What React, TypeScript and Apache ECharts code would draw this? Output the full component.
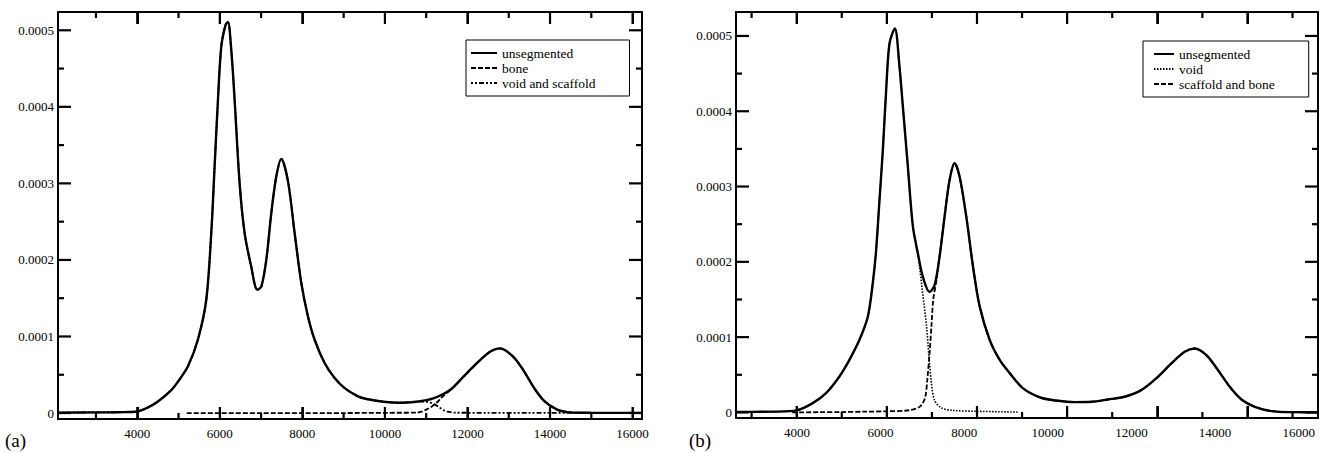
import React, { useEffect, useRef } from 'react';
import * as echarts from 'echarts';

const FONT = '"Liberation Serif", "Times New Roman", Times, serif';

// ---------------- Panel (a) ----------------
const aUnsegX = [2080, 3000, 3500, 3700, 4000, 4250, 4500, 4824, 5000, 5228, 5470, 5672, 5793, 5874, 5955, 6036, 6140, 6197, 6278, 6359, 6480, 6601, 6762, 6908, 7005, 7126, 7247, 7368, 7490, 7651, 7813, 7974, 8136, 8297, 8539, 8782, 9024, 9347, 9556, 9960, 10364, 10767, 11171, 11575, 11898, 12221, 12544, 12787, 13110, 13352, 13595, 13837, 14160, 14483, 15000, 16228];
const aUnsegY = [0.0000005, 0.0000008, 0.000001, 0.0000012, 0.000002, 0.000007, 0.000015, 0.00003, 0.000042, 0.000061, 0.000096, 0.000148, 0.000235, 0.000322, 0.000409, 0.000479, 0.000507, 0.000511, 0.000474, 0.000409, 0.0003, 0.000235, 0.000191, 0.000161, 0.000165, 0.0002, 0.000261, 0.000309, 0.000332, 0.000303, 0.000235, 0.00017, 0.000126, 0.0000957, 0.0000653, 0.0000457, 0.0000326, 0.0000218, 0.0000183, 0.0000148, 0.0000135, 0.0000148, 0.0000191, 0.00003, 0.0000474, 0.0000648, 0.00008, 0.0000844, 0.0000735, 0.0000561, 0.0000344, 0.000017, 0.0000048, 0.0000009, 0.0000003, 0.0000002];

const aBoneX = [5200, 6000, 7000, 8000, 9000, 10000, 10767, 10890, 11010, 11131, 11252, 11373, 11494, 11575, 11898, 12221, 12544, 12787, 13110, 13352, 13595, 13837, 14160, 14483, 15000, 16228];
const aBoneY = [0, 0, 0, 0, 0, 0.0000003, 0.0000005, 0.0000017, 0.0000048, 0.0000083, 0.0000135, 0.00002, 0.0000262, 0.0000292, 0.0000468, 0.0000645, 0.0000798, 0.0000843, 0.0000735, 0.0000561, 0.0000344, 0.000017, 0.0000048, 0.0000009, 0.0000003, 0.0000002];

const aVoidSplitX = 10767;
const aVoidTailX = [10950, 11100, 11212, 11330, 11414, 11520, 11737, 12500, 13500, 14720];
const aVoidTailY = [0.000015, 0.0000135, 0.000011, 0.000007, 0.0000039, 0.0000017, 0.0000004, 0.0000003, 0.0000002, 0.0000002];

// ---------------- Panel (b) ----------------
const bUnsegX = [2654, 3000, 3500, 4000, 4356, 4652, 4948, 5170, 5393, 5578, 5689, 5763, 5837, 5911, 5985, 6059, 6178, 6281, 6356, 6467, 6578, 6689, 6800, 6948, 7059, 7170, 7281, 7393, 7504, 7615, 7763, 7911, 8059, 8281, 8504, 8726, 9022, 9422, 9793, 10163, 10533, 10904, 11274, 11644, 12015, 12311, 12607, 12830, 13089, 13348, 13607, 13867, 14163, 14533, 14978, 15565];
const bUnsegY = [0.0000005, 0.0000008, 0.000001, 0.0000027, 0.0000124, 0.0000256, 0.0000477, 0.0000698, 0.0000964, 0.000127, 0.000172, 0.000216, 0.000282, 0.000348, 0.000428, 0.00049, 0.00051, 0.000459, 0.000406, 0.000326, 0.000247, 0.000211, 0.00018, 0.00016, 0.000169, 0.000207, 0.00026, 0.000309, 0.000331, 0.000313, 0.00026, 0.000194, 0.000141, 0.0000964, 0.0000698, 0.0000522, 0.000032, 0.0000195, 0.0000155, 0.0000137, 0.0000141, 0.0000172, 0.0000208, 0.0000296, 0.0000473, 0.000065, 0.0000805, 0.0000849, 0.000076, 0.0000561, 0.000034, 0.0000172, 0.0000075, 0.0000018, 0.0000004, 0.0000002];

const bVoidSplitX = 6689;
const bVoidTailX = [6772, 6880, 6940, 6990, 7060, 7210, 7470, 8000, 8900];
const bVoidTailY = [0.00017, 0.000115, 0.00007, 0.000038, 0.000016, 0.000006, 0.0000027, 0.0000015, 0.0000005];

const bScafHeadX = [3900, 4500, 5000, 5500, 6000, 6510, 6740, 6850, 6900, 6950, 6990, 7030, 7100];
const bScafHeadY = [0, 0.0000003, 0.0000005, 0.000001, 0.0000015, 0.000003, 0.000008, 0.00002, 0.000045, 0.00008, 0.000115, 0.00015, 0.000175];
const bScafJoinX = 7170;

// ---------------- ticks ----------------
const aXTicks = [3000, 4000, 5000, 6000, 7000, 8000, 9000, 10000, 11000, 12000, 13000, 14000, 15000, 16000];
const bXTicks = [3000, 4000, 5000, 6000, 7000, 8000, 9000, 10000, 11000, 12000, 13000, 14000, 15000];
const yTicks = [0, 0.00005, 0.0001, 0.00015, 0.0002, 0.00025, 0.0003, 0.00035, 0.0004, 0.00045, 0.0005];
const xTickStep = 2000;
const yTickStep = 0.0001;

function pairs(xs: number[], ys: number[]) {
  return xs.map((x, i) => [x, ys[i]]);
}
const isMult = (v: number, s: number) => {
  const k = v / s;
  return Math.abs(k - Math.round(k)) < 1e-6;
};
const xFmt = (v: number) => (isMult(v, xTickStep) ? String(Math.round(v)) : '');
const yFmt = (v: number) => {
  if (!isMult(v, yTickStep)) return '';
  const r = Math.round(v / yTickStep);
  return r === 0 ? '0' : (r * yTickStep).toFixed(4);
};

const axisLineStyle = { color: '#000', width: 2 };
const tickLineStyle = { color: '#000', width: 2 };

// value axes with native inward ticks; xmgrace-style mirrored frame
function axisDef(gridIndex: number, min: number, max: number, step: number, split: number, position: string, showLine: boolean, tickLen: number, label: any) {
  return {
    type: 'value', gridIndex, min, max, minInterval: step, maxInterval: step, splitNumber: split, position,
    axisLine: { show: showLine, onZero: false, lineStyle: axisLineStyle },
    axisTick: { show: tickLen > 0, inside: true, length: tickLen, lineStyle: tickLineStyle },
    minorTick: { show: false },
    axisLabel: label,
    splitLine: { show: false },
  };
}

const noLabel = { show: false };
const xLabel = { show: true, interval: 0, formatter: xFmt, fontFamily: FONT, fontSize: 13, color: '#000', margin: 8 };
const yLabel = { show: true, interval: 0, formatter: yFmt, fontFamily: FONT, fontSize: 13, color: '#000', margin: 4 };

// Inward tick marks as short line segments in data space (pxX / pxY = data units per pixel)
function tickSeries(prefix: string, xi: number, yi: number, xTicks: number[], yTicks: number[], xMin: number, xMax: number, yMin: number, yMax: number, pxX: number, pxY: number) {
  const segs: number[][][] = [];
  xTicks.forEach((v) => {
    const L = (isMult(v, xTickStep) ? 12 : 6) * pxY;
    segs.push([[v, yMin], [v, yMin + L]]);
    segs.push([[v, yMax], [v, yMax - L]]);
  });
  yTicks.forEach((v) => {
    const L = (isMult(v, yTickStep) ? 13 : 6) * pxX;
    segs.push([[xMin, v], [xMin + L, v]]);
    segs.push([[xMax, v], [xMax - L, v]]);
  });
  return segs.map((seg, i) => ({
    type: 'line', name: prefix + i, xAxisIndex: xi, yAxisIndex: yi, symbol: 'none', showSymbol: false, silent: true,
    clip: false, z: 6, lineStyle: { color: '#000', width: 2.2, cap: 'butt' }, data: seg,
  }));
}

export default function App() {
  const ref = useRef<HTMLDivElement>(null);
  useEffect(() => {
    const chart = echarts.init(ref.current!, null, { renderer: 'svg' });

    const aMin = 2080, aMax = 16228, aYMin = -0.0000078, aYMax = 0.0005239;
    const bMin = 2654, bMax = 15565, bYMin = -0.0000074, bYMax = 0.0005318;
    const bLabMin = 2542, bLabMax = 16461;
    const aW = 584, aH = 407, bW = 582, bH = 406;

    const aVoid = pairs(aUnsegX, aUnsegY).filter((p) => p[0] <= aVoidSplitX).concat(pairs(aVoidTailX, aVoidTailY));
    const bVoid = pairs(bUnsegX, bUnsegY).filter((p) => p[0] <= bVoidSplitX).concat(pairs(bVoidTailX, bVoidTailY));
    const bScaf = pairs(bScafHeadX, bScafHeadY).concat(pairs(bUnsegX, bUnsegY).filter((p) => p[0] >= bScafJoinX));

    const common = { type: 'line', symbol: 'none', showSymbol: false, smooth: 0.3, silent: true };
    const legendCommon = {
      orient: 'vertical', itemHeight: 10, itemGap: 1, borderColor: '#000', borderWidth: 1, backgroundColor: '#fff',
      selectedMode: false, itemStyle: { opacity: 0 }, textStyle: { fontFamily: FONT, fontSize: 13.5, color: '#000' },
    };

    const option: any = {
      animation: false,
      backgroundColor: '#fff',
      grid: [
        { left: 58, top: 12, width: aW, height: aH },
        { left: 736, top: 12, width: bW, height: bH },
      ],
      xAxis: [
        axisDef(0, aMin, aMax, 2000, 7, 'bottom', true, 12, xLabel),
        axisDef(0, aMin, aMax, 2000, 7, 'top', true, 12, noLabel),
        axisDef(1, bMin, bMax, 2000, 7, 'bottom', true, 12, noLabel),
        axisDef(1, bMin, bMax, 2000, 7, 'top', true, 12, noLabel),
        axisDef(1, bLabMin, bLabMax, 2000, 7, 'bottom', false, 0, xLabel),
      ],
      yAxis: [
        axisDef(0, aYMin, aYMax, 0.0001, 5, 'left', true, 0, yLabel),
        axisDef(0, aYMin, aYMax, 0.0001, 5, 'right', true, 0, noLabel),
        axisDef(1, bYMin, bYMax, 0.0001, 5, 'left', true, 0, yLabel),
        axisDef(1, bYMin, bYMax, 0.0001, 5, 'right', true, 0, noLabel),
      ],
      legend: [
        { ...legendCommon, data: ['unsegmented', 'bone', 'void and scaffold'], left: 466, top: 40, itemWidth: 26, padding: [6, 34, 6, 4] },
        { ...legendCommon, data: ['unsegmented', 'void', 'scaffold and bone'], left: 1143, top: 41, itemWidth: 20, padding: [6, 34, 6, 10] },
      ],
      series: [
        { ...common, name: 'bone', xAxisIndex: 0, yAxisIndex: 0, data: pairs(aBoneX, aBoneY), itemStyle: { color: '#000' }, lineStyle: { color: '#000', width: 1.8, type: [5, 2] }, z: 2 },
        { ...common, name: 'void and scaffold', xAxisIndex: 0, yAxisIndex: 0, data: aVoid, itemStyle: { color: '#000' }, lineStyle: { color: '#000', width: 1.8, type: [2, 2, 2, 2, 5, 2] }, z: 2 },
        { ...common, name: 'unsegmented', xAxisIndex: 0, yAxisIndex: 0, data: pairs(aUnsegX, aUnsegY), itemStyle: { color: '#000' }, lineStyle: { color: '#000', width: 2.4 }, z: 3 },
        { ...common, name: 'void', xAxisIndex: 2, yAxisIndex: 2, data: bVoid, itemStyle: { color: '#000' }, lineStyle: { color: '#000', width: 1.6, type: [1.5, 1.5] }, z: 2 },
        { ...common, name: 'scaffold and bone', xAxisIndex: 2, yAxisIndex: 2, data: bScaf, itemStyle: { color: '#000' }, lineStyle: { color: '#000', width: 1.8, type: [5, 2] }, z: 2 },
        { ...common, name: 'unsegmented', xAxisIndex: 2, yAxisIndex: 2, data: pairs(bUnsegX, bUnsegY), itemStyle: { color: '#000' }, lineStyle: { color: '#000', width: 2.4 }, z: 3 },
        ...tickSeries('tick-a-', 0, 0, aXTicks, yTicks, aMin, aMax, aYMin, aYMax, (aMax - aMin) / aW, (aYMax - aYMin) / aH),
        ...tickSeries('tick-b-', 2, 2, bXTicks, yTicks, bMin, bMax, bYMin, bYMax, (bMax - bMin) / bW, (bYMax - bYMin) / bH),
      ],
      graphic: [
        { type: 'text', left: 5, top: 431, style: { text: '(a)', fontFamily: FONT, fontSize: 19, fill: '#000' } },
        { type: 'text', left: 689, top: 431, style: { text: '(b)', fontFamily: FONT, fontSize: 19, fill: '#000' } },
      ],
    };

    chart.setOption(option);
    return () => chart.dispose();
  }, []);
  return <div ref={ref} style={{ position: 'absolute', left: 0, top: 0, width: 1325, height: 453, background: '#fff' }} />;
}
